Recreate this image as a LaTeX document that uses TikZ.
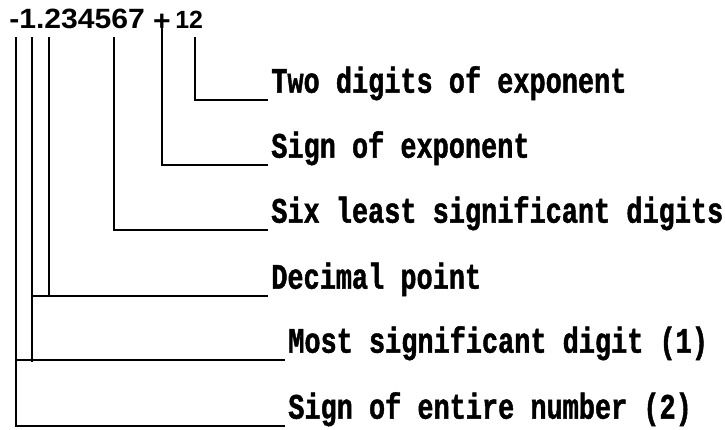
\documentclass[tikz,border=0pt]{standalone}
\usepackage{fontspec}
\newfontfamily\numfont[FakeStretch=1.08]{Liberation Sans}
\newfontfamily\expfont{Liberation Sans}
\newfontfamily\lblfont[FakeStretch=0.75,BoldFeatures={FakeBold=1.2}]{Liberation Mono}
\begin{document}
\begin{tikzpicture}[x=1bp,y=-1bp,line width=2.6bp,
  lbl/.style={anchor=south west,inner xsep=2bp,inner ysep=6bp,text depth=0pt,font=\lblfont\bfseries\fontsize{36}{40}\selectfont},
  numtxt/.style={inner sep=0pt,font=\numfont\bfseries\fontsize{28}{30}\selectfont}]
\useasboundingbox (0,0) rectangle (725,429);
\node[numtxt,anchor=base west] (num) at (8,28) {-1.234567};
\node[numtxt] (plus) at (162,22) {+};
\node[inner sep=0pt,anchor=base west,font=\expfont\bfseries\fontsize{25}{28}\selectfont] (exp) at (174,28) {12};
\foreach \n/\x in {c1/16,c2/32,c3/49,c4/114,c6/195} \coordinate (\n) at (\x,37);
\node[lbl] (two) at (268,100) {Two digits of exponent};
\node[lbl] (sgx) at (268,165) {Sign of exponent};
\node[lbl] (six) at (268,230) {Six least significant digits};
\node[lbl] (dec) at (268,296) {Decimal point};
\node[lbl] (msd) at (285,360) {Most significant digit (1)};
\node[lbl] (sgn) at (285,426) {Sign of entire number (2)};
\draw (c6) |- (two.south west);
\draw (plus.center) |- (sgx.south west);
\draw (c4) |- (six.south west);
\draw (c3) -- (c3 |- dec.south west);
\draw (c2 |- dec.south west) -- (dec.south west);
\draw (c2) -- ([yshift=-2bp]c2 |- msd.south west);
\draw (c1 |- msd.south west) -- (msd.south west);
\draw (c1) |- (sgn.south west);
\end{tikzpicture}
\end{document}
